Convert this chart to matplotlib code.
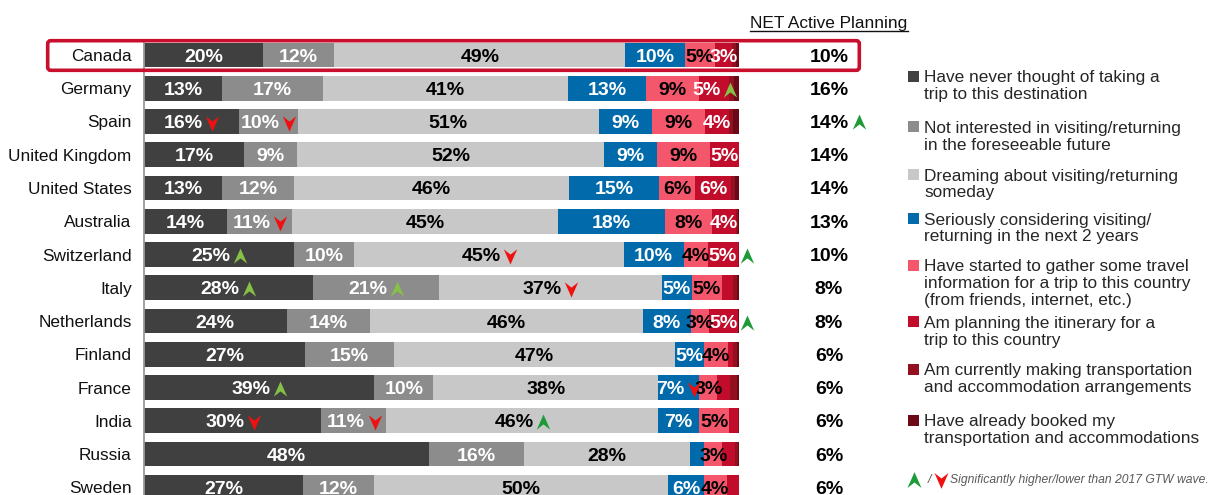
import matplotlib
matplotlib.use('Agg')
import matplotlib.pyplot as plt
from matplotlib.path import Path
from matplotlib.patches import Rectangle, FancyBboxPatch
import numpy as np

plt.rcParams['font.family'] = ['Liberation Sans', 'DejaVu Sans']

# ---------------- data ----------------
countries = ['Canada', 'Germany', 'Spain', 'United Kingdom', 'United States', 'Australia',
             'Switzerland', 'Italy', 'Netherlands', 'Finland', 'France', 'India', 'Russia', 'Sweden']

never_thought = [20, 13, 16, 17, 13, 14, 25, 28, 24, 27, 39, 30, 48, 27]
not_interested = [12, 17, 10, 9, 12, 11, 10, 21, 14, 15, 10, 11, 16, 12]
dreaming = [49, 41, 51, 52, 46, 45, 45, 37, 46, 47, 38, 46, 28, 50]
considering = [10, 13, 9, 9, 15, 18, 10, 5, 8, 5, 7, 7, 2.4, 6]
gathering_info = [5, 9, 9, 9, 6, 8, 4, 5, 3, 4, 3, 5, 3, 4]
planning_itinerary = [3, 5, 4, 5, 6, 4, 5, 1.8, 5, 0.8, 2.2, 1.5, 2.1, 2.1]
making_arrangements = [0.6, 0.7, 0.7, 0, 0.6, 0.4, 0.3, 0.7, 0, 0.6, 1.1, 0.3, 0.5, 0]
already_booked = [0.6, 1.0, 1.1, 0, 0.8, 0.2, 0, 0.4, 0.2, 0.5, 0.5, 0, 0.3, 0]
net_active_planning = [10, 16, 14, 14, 14, 13, 10, 8, 8, 6, 6, 6, 6, 6]

category_names = [
    'Have never thought of taking a\ntrip to this destination',
    'Not interested in visiting/returning\nin the foreseeable future',
    'Dreaming about visiting/returning\nsomeday',
    'Seriously considering visiting/\nreturning in the next 2 years',
    'Have started to gather some travel\ninformation for a trip to this country\n(from friends, internet, etc.)',
    'Am planning the itinerary for a\ntrip to this country',
    'Am currently making transportation\nand accommodation arrangements',
    'Have already booked my\ntransportation and accommodations',
]

# significance vs 2017 wave: (country, category index, direction)
sig_changes = [('Germany', 5, 'up'), ('Spain', 0, 'down'), ('Spain', 1, 'down'),
               ('Australia', 1, 'down'), ('Switzerland', 0, 'up'), ('Switzerland', 2, 'down'),
               ('Switzerland', 5, 'up'), ('Italy', 0, 'up'), ('Italy', 1, 'up'),
               ('Italy', 2, 'down'), ('Netherlands', 5, 'up'), ('France', 0, 'up'),
               ('France', 3, 'down'), ('India', 0, 'down'), ('India', 1, 'down'),
               ('India', 2, 'up')]
net_sig_changes = [('Spain', 'up')]

# ---------------- styles ----------------
colors = ['#404040', '#8C8C8C', '#C8C8C8', '#006AAB', '#F4566B', '#C20C2B', '#92101F', '#6B0A16']
label_colors = ['white', 'white', 'black', 'white', 'black', 'white', 'white', 'white']
green_on_dark = '#86C045'
green_on_light = '#1E9A38'
red_down = '#F01010'

series = [never_thought, not_interested, dreaming, considering, gathering_info,
          planning_itinerary, making_arrangements, already_booked]
data = np.array(series, dtype=float).T          # rows = countries
row_tot = data.sum(axis=1, keepdims=True)
shares = data / row_tot * 100

W, H = 1209, 495
fig = plt.figure(figsize=(W / 100, H / 100), dpi=100)

ax_left, ax_w = 144, 595.5
row_top_c, row_step = 55.0, 33.25
ax_top = row_top_c - 0.5 * row_step
ax = fig.add_axes([ax_left / W, 0, ax_w / W, (H - ax_top) / H])
n = len(countries)
ax.set_xlim(0, 100)
ax.set_ylim((H - row_top_c) / row_step, -0.5)
px = 100 / ax_w   # data units per pixel

bar_h = 0.75
lefts = np.zeros(n)
for k in range(len(series)):
    ax.barh(range(n), shares[:, k], left=lefts, height=bar_h, color=colors[k],
            edgecolor='none', zorder=2)
    lefts += shares[:, k]

fs_val = 14
em_px = fs_val * 100 / 72

def text_w(s):
    digits = len(s) - 1
    return (0.556 * digits + 0.889) * em_px

sig_lookup = {(countries.index(c), k): d for c, k, d in sig_changes}

def arrow_path(direction):
    v = [(0, 0.5), (0.42, -0.45), (0, -0.12), (-0.42, -0.45), (0, 0.5)]
    if direction == 'down':
        v = [(x, -y) for x, y in v]
    codes = [Path.MOVETO, Path.LINETO, Path.LINETO, Path.LINETO, Path.CLOSEPOLY]
    return Path(v, codes)

for i in range(n):
    start = 0.0
    bar_end = shares[i].sum()
    for k in range(len(series)):
        v = data[i, k]
        wv = shares[i, k]
        c = start + wv / 2
        start += wv
        if v < 3:
            continue
        s = f'{int(round(v))}%'
        key = (i, k)
        if key in sig_lookup:
            d = sig_lookup[key]
            w = text_w(s)
            mx = c + (w / 2 + 1.5) * px
            outside = (mx + 6.5 * px) > bar_end
            if outside:
                tx = c
                mx = bar_end + 8 * px
                mcol = green_on_light if d == 'up' else red_down
            else:
                tx = c - 8 * px
                if d == 'up':
                    mcol = green_on_dark if k in (0, 1, 3, 5) else green_on_light
                else:
                    mcol = red_down
            ax.plot([mx], [i + 0.05], marker=arrow_path(d), markersize=11.5, color=mcol,
                    markeredgewidth=0, linestyle='none', zorder=5, clip_on=False)
        else:
            tx = c
        ax.text(tx, i, s, ha='center', va='center_baseline', fontsize=fs_val,
                fontweight='bold', color=label_colors[k], zorder=4)

# NET column
net_x = (829 - ax_left) * px
net_sig = {countries.index(c): d for c, d in net_sig_changes}
for i, v in enumerate(net_active_planning):
    s = f'{v}%'
    ax.text(net_x, i, s, ha='center', va='center_baseline', fontsize=fs_val,
            fontweight='bold', color='black', clip_on=False, zorder=4)
    if i in net_sig:
        mx = net_x + (text_w(s) / 2 + 11) * px
        ax.plot([mx], [i + 0.02], marker=arrow_path(net_sig[i]), markersize=11.5,
                color=green_on_light, markeredgewidth=0, linestyle='none',
                clip_on=False, zorder=5)

ax.set_yticks(range(n))
ax.set_yticklabels(countries, fontsize=12.4, color='#111111')
ax.tick_params(axis='y', length=0, pad=9)
ax.set_xticks([])
for sp in ['top', 'right', 'bottom']:
    ax.spines[sp].set_visible(False)
ax.spines['left'].set_color('#9A9A9A')
ax.spines['left'].set_linewidth(1.3)
ax.spines['left'].set_bounds(ax.get_ylim()[0], -0.4)
ax.patch.set_alpha(0)

# ---------------- overlay in pixel coordinates ----------------
ov = fig.add_axes([0, 0, 1, 1], zorder=10)
ov.set_xlim(0, W)
ov.set_ylim(H, 0)
ov.axis('off')
ov.patch.set_alpha(0)

# highlight box around Canada
box = FancyBboxPatch((47.7, 40.7), 859.3 - 47.7, 70.3 - 40.7,
                     boxstyle='round,pad=0,rounding_size=3', fill=False,
                     edgecolor='#C8102E', linewidth=2.6, zorder=12)
ov.add_patch(box)

# header
ov.text(829, 28.3, 'NET Active Planning', ha='center', va='baseline', fontsize=12.4,
        color='#111111')
ov.plot([750, 908], [31.2, 31.2], color='#111111', linewidth=1.0)

# legend
leg_y = [76, 126.7, 174.3, 218.3, 265, 321.7, 369, 420]
line_step = 16.7
for k, name in enumerate(category_names):
    ov.add_patch(Rectangle((908, leg_y[k] - 5.5), 11, 11, facecolor=colors[k],
                           edgecolor='none'))
    for j, line in enumerate(name.split('\n')):
        ov.text(924.3, leg_y[k] + 6.2 + j * line_step, line, ha='left', va='baseline',
                fontsize=12.4, color='#262626')

# footnote
ov.plot([914], [480], marker=arrow_path('up'), markersize=12, color=green_on_light,
        markeredgewidth=0, linestyle='none')
ov.text(929, 480, '/', ha='center', va='center', fontsize=9, style='italic', color='#595959')
ov.plot([941], [480], marker=arrow_path('down'), markersize=12, color=red_down,
        markeredgewidth=0, linestyle='none')
ov.text(950, 480, 'Significantly higher/lower than 2017 GTW wave.', ha='left',
        va='center', fontsize=8.7, style='italic', color='#595959')

fig.savefig('out.png', dpi=100)
